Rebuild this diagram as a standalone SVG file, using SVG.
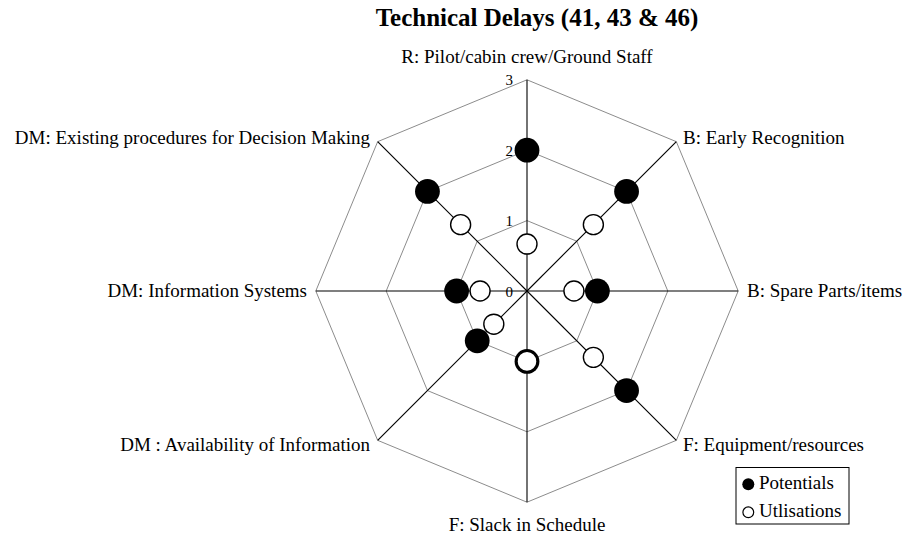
<svg xmlns="http://www.w3.org/2000/svg" width="903" height="537" viewBox="0 0 903 537">
<style>
text{font-family:"Liberation Serif","Times New Roman",serif;fill:#000}
.title{font-size:25px;font-weight:bold}
.lab{font-size:19px}
.tick{font-size:15px}
.ring{fill:none;stroke:#8c8c8c;stroke-width:1}
.axis{stroke:#000;stroke-width:1.1}
.pot{fill:#000}
.utl{fill:#fff;stroke:#000;stroke-width:1.4}
</style>
<rect width="903" height="537" fill="#fff"/>
<text class="title" x="537" y="26" text-anchor="middle">Technical Delays (41, 43 &amp; 46)</text>
<g id="grid">
<polygon class="ring" points="527,220.6 576.78,241.22 597.4,291 576.78,340.78 527,361.4 477.22,340.78 456.6,291 477.22,241.22"/>
<polygon class="ring" points="527,150.2 626.56,191.44 667.8,291 626.56,390.56 527,431.8 427.44,390.56 386.2,291 427.44,191.44"/>
<polygon class="ring" points="527,79.8 676.34,141.66 738.2,291 676.34,440.34 527,502.2 377.66,440.34 315.8,291 377.66,141.66"/>
</g>
<g id="connectors">
<line class="axis" x1="527" y1="291" x2="527" y2="79.8"/>
<line class="axis" x1="527" y1="291" x2="676.34" y2="141.66"/>
<line class="axis" x1="527" y1="291" x2="738.2" y2="291"/>
<line class="axis" x1="527" y1="291" x2="676.34" y2="440.34"/>
<line class="axis" x1="527" y1="291" x2="527" y2="502.2"/>
<line class="axis" x1="527" y1="291" x2="377.66" y2="440.34"/>
<line class="axis" x1="527" y1="291" x2="315.8" y2="291"/>
<line class="axis" x1="527" y1="291" x2="377.66" y2="141.66"/>
</g>
<g id="ticks">
<text class="tick" x="513" y="85" text-anchor="end">3</text>
<text class="tick" x="513" y="156" text-anchor="end">2</text>
<text class="tick" x="513" y="226" text-anchor="end">1</text>
<text class="tick" x="513" y="297" text-anchor="end">0</text>
</g>
<g id="labels">
<g id="axis-R"><text class="lab" x="527" y="63" text-anchor="middle">R: Pilot/cabin crew/Ground Staff</text></g>
<g id="axis-B-early"><text class="lab" x="683" y="144">B: Early Recognition</text></g>
<g id="axis-B-spare"><text class="lab" x="747" y="297">B: Spare Parts/items</text></g>
<g id="axis-F-equip"><text class="lab" x="683" y="451">F: Equipment/resources</text></g>
<g id="axis-F-slack"><text class="lab" x="527" y="531" text-anchor="middle">F: Slack in Schedule</text></g>
<g id="axis-DM-avail"><text class="lab" x="370" y="451" text-anchor="end">DM : Availability of Information</text></g>
<g id="axis-DM-info"><text class="lab" x="307" y="297" text-anchor="end">DM: Information Systems</text></g>
<g id="axis-DM-exist"><text class="lab" x="370" y="144" text-anchor="end">DM: Existing procedures for Decision Making</text></g>
</g>
<g id="potentials">
<circle class="pot" cx="527" cy="150.2" r="12.4"/>
<circle class="pot" cx="626.56" cy="191.44" r="12.4"/>
<circle class="pot" cx="597.4" cy="291" r="12.4"/>
<circle class="pot" cx="626.56" cy="390.56" r="12.4"/>
<circle class="pot" cx="527" cy="361.4" r="12.4"/>
<circle class="pot" cx="477.22" cy="340.78" r="12.4"/>
<circle class="pot" cx="456.6" cy="291" r="12.4"/>
<circle class="pot" cx="427.44" cy="191.44" r="12.4"/>
</g>
<g id="utilisations">
<circle class="utl" cx="527" cy="244.07" r="10"/>
<circle class="utl" cx="593.37" cy="224.63" r="10"/>
<circle class="utl" cx="573.93" cy="291" r="10"/>
<circle class="utl" cx="593.37" cy="357.37" r="10"/>
<circle class="utl" cx="527" cy="361.4" r="10"/>
<circle class="utl" cx="493.81" cy="324.19" r="10"/>
<circle class="utl" cx="480.07" cy="291" r="10"/>
<circle class="utl" cx="460.63" cy="224.63" r="10"/>
</g>
<g id="legend">
<rect x="736" y="467.5" width="113" height="56.5" fill="#fff" stroke="#000" stroke-width="1"/>
<circle class="pot" cx="748.3" cy="484.3" r="6"/>
<text class="lab" x="759" y="489">Potentials</text>
<circle cx="748.3" cy="512.3" r="5.4" fill="#fff" stroke="#000" stroke-width="1.2"/>
<text class="lab" x="759" y="517">Utlisations</text>
</g>
</svg>
